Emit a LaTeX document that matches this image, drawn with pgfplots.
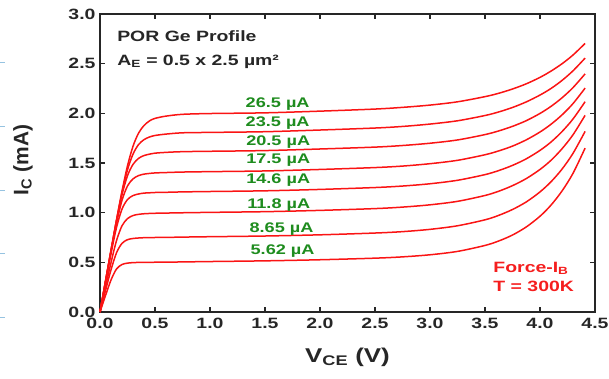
\documentclass[border=0pt]{standalone}
\usepackage{pgfplots}
\pgfplotsset{compat=1.18}
\usepackage{pgfplotstable}
\usepackage{fontspec}
\setmainfont{Liberation Sans}
\newfontfamily\wf[FakeStretch=1.3]{Liberation Sans}
\definecolor{curve}{RGB}{250,20,20}
\definecolor{lblgreen}{RGB}{30,140,30}
\definecolor{lblred}{RGB}{245,30,30}
\definecolor{slideblue}{RGB}{150,195,225}

\pgfplotstableread{
V     c1    c2    c3    c4    c5    c6    c7    c8
0     0     0     0     0     0     0     0     0
0.05  0.165 0.215 0.250 0.295 0.305 0.310 0.310 0.310
0.10  0.322 0.424 0.497 0.587 0.608 0.618 0.620 0.620
0.15  0.433 0.596 0.718 0.850 0.893 0.918 0.923 0.925
0.20  0.478 0.691 0.868 1.036 1.124 1.180 1.204 1.216
0.25  0.492 0.728 0.940 1.132 1.269 1.372 1.431 1.472
0.30  0.497 0.740 0.971 1.172 1.340 1.486 1.589 1.668
0.35  0.499 0.745 0.983 1.188 1.373 1.546 1.685 1.800
0.40  0.500 0.748 0.989 1.197 1.388 1.575 1.735 1.877
0.45  0.500 0.749 0.992 1.200 1.395 1.589 1.762 1.924
0.50  0.501 0.750 0.994 1.203 1.400 1.599 1.777 1.949
0.60  0.502 0.751 0.996 1.205 1.404 1.607 1.791 1.972
0.75  0.504 0.754 0.999 1.209 1.409 1.614 1.804 1.990
1.00  0.508 0.758 1.003 1.213 1.413 1.618 1.808 1.998
1.50  0.515 0.765 1.010 1.220 1.420 1.625 1.815 2.005
2.00  0.526 0.777 1.023 1.234 1.435 1.641 1.832 2.022
2.50  0.542 0.795 1.041 1.253 1.454 1.660 1.852 2.043
2.75  0.555 0.809 1.056 1.268 1.469 1.676 1.868 2.060
3.00  0.576 0.832 1.079 1.291 1.493 1.699 1.892 2.083
3.25  0.610 0.868 1.114 1.326 1.527 1.732 1.925 2.116
3.50  0.670 0.928 1.173 1.383 1.583 1.786 1.978 2.168
3.625 0.715 0.973 1.216 1.424 1.622 1.823 2.014 2.202
3.75  0.775 1.032 1.272 1.476 1.670 1.869 2.059 2.245
3.875 0.856 1.108 1.343 1.542 1.733 1.926 2.115 2.297
4.00  0.964 1.209 1.435 1.627 1.812 1.999 2.184 2.362
4.10  1.076 1.311 1.527 1.711 1.890 2.070 2.250 2.425
4.20  1.218 1.438 1.643 1.816 1.984 2.156 2.331 2.499
4.30  1.396 1.597 1.784 1.943 2.098 2.259 2.428 2.587
4.41  1.650 1.818 1.980 2.117 2.254 2.397 2.556 2.704
}\curves

\begin{document}
\begin{tikzpicture}
\useasboundingbox (0,0) rectangle (609bp,379bp);
\foreach \yy in {316,252,188,125,61} {
  \draw[slideblue, line width=1bp] (0,\yy bp) -- (5bp,\yy bp);
}
\begin{axis}[
  at={(100bp,67bp)}, anchor=south west,
  width=495bp, height=298bp, scale only axis,
  xmin=0, xmax=4.5, ymin=0, ymax=3.0,
  xtick={0,0.5,1.0,1.5,2.0,2.5,3.0,3.5,4.0,4.5},
  ytick={0,0.5,1.0,1.5,2.0,2.5,3.0},
  minor tick num=0,
  tick align=inside,
  major tick length=5bp,
  tick style={line width=1.3bp, black!85},
  axis line style={line width=1.6bp, black!85},
  tick label style={font=\wf\bfseries\fontsize{15}{15}\selectfont, text=black!85},
  xticklabel style={yshift=-3bp},
  yticklabel style={xshift=-1bp},
  /pgf/number format/.cd, fixed, fixed zerofill, precision=1, assume math mode=true,
  /pgfplots/.cd,
  xlabel={V\textsubscript{CE} (V)},
  xlabel style={font=\wf\bfseries\fontsize{20}{20}\selectfont, text=black!85,
    at={(axis description cs:0.5,0)}, anchor=center, yshift=-45bp},
  ylabel={I\textsubscript{C} (mA)},
  ylabel style={font=\bfseries\fontsize{21}{21}\selectfont, text=black!85,
    at={(axis description cs:0,0.51)}, anchor=center, yshift=77bp},
  clip=false,
]
\foreach \c in {c1,c2,c3,c4,c5,c6,c7,c8} {
  \addplot[curve, line width=1.5bp, smooth] table[x=V, y=\c] {\curves};
}
\node[anchor=west, font=\wf\bfseries\fontsize{15}{15}\selectfont, text=black!85] at (axis cs:0.125,2.78) {POR Ge Profile};
\node[anchor=west, font=\wf\bfseries\fontsize{15}{15}\selectfont, text=black!85] at (axis cs:0.125,2.52) {A\textsubscript{E} = 0.5 x 2.5 µm²};
\begin{scope}[every node/.style={font=\wf\bfseries\fontsize{14}{14}\selectfont, text=lblgreen}]
\node at (axis cs:1.615,2.095) {26.5 µA};
\node at (axis cs:1.615,1.906) {23.5 µA};
\node at (axis cs:1.62,1.715) {20.5 µA};
\node at (axis cs:1.62,1.524) {17.5 µA};
\node at (axis cs:1.62,1.329) {14.6 µA};
\node at (axis cs:1.625,1.081) {11.8 µA};
\node at (axis cs:1.65,0.836) {8.65 µA};
\node at (axis cs:1.66,0.614) {5.62 µA};
\end{scope}
\node[anchor=west, font=\wf\bfseries\fontsize{15}{15}\selectfont, text=lblred] at (axis cs:3.545,0.443) {Force-I\textsubscript{B}};
\node[anchor=west, font=\wf\bfseries\fontsize{15}{15}\selectfont, text=lblred] at (axis cs:3.545,0.26) {T = 300K};
\end{axis}
\end{tikzpicture}
\end{document}
